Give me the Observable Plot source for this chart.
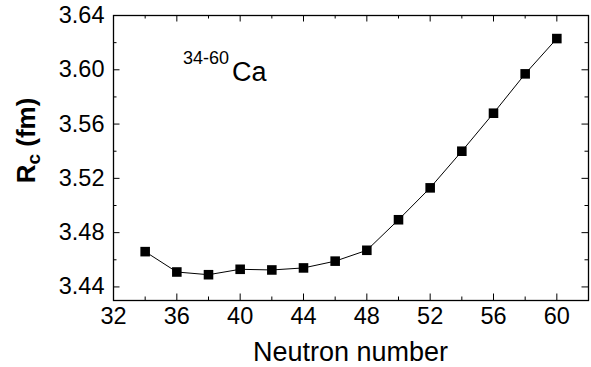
<!DOCTYPE html>
<html>
<head>
<meta charset="utf-8">
<script src="https://cdn.jsdelivr.net/npm/d3@7"></script>
<script src="https://cdn.jsdelivr.net/npm/@observablehq/plot@0.6"></script>
<style>
  html, body { margin: 0; padding: 0; background: #fff; }
  svg { font-family: "Liberation Sans", Arial, Helvetica, sans-serif; }
</style>
</head>
<body>
<div id="chart"></div>
<script>
const neutrons = [34, 36, 38, 40, 42, 44, 46, 48, 50, 52, 54, 56, 58, 60];
const radii = [3.466, 3.451, 3.449, 3.453, 3.4525, 3.454, 3.459, 3.467, 3.4895, 3.513, 3.540, 3.568, 3.597, 3.623];
const xMajor = [32, 36, 40, 44, 48, 52, 56, 60];
const xMinor = [34, 38, 42, 46, 50, 54, 58];
const yMajor = [3.44, 3.48, 3.52, 3.56, 3.60, 3.64];
const yMinor = [3.46, 3.50, 3.54, 3.58, 3.62];
const xLabel = "Neutron number";
const annotation = { sup: "34-60", main: "Ca", x: 36.42, y: 3.604 };

const data = neutrons.map((n, i) => ({ n, r: radii[i] }));

const W = 591, H = 367;
const mL = 113, mR = 3, mT = 15, mB = 67;
const pw = W - mL - mR, ph = H - mT - mB;
const majorLen = 6.5, minorLen = 3.5;

const plot = Plot.plot({
  width: W,
  height: H,
  marginLeft: mL,
  marginRight: mR,
  marginTop: mT,
  marginBottom: mB,
  style: { fontFamily: "Liberation Sans, Arial, sans-serif", background: "white", color: "black" },
  x: { domain: [32, 62] },
  y: { domain: [3.43, 3.64] },
  marks: [
    Plot.axisX({ ticks: xMajor, tickSize: 0, tickPadding: 7, fontSize: 23.5, label: null }),
    Plot.axisY({ ticks: yMajor, tickSize: 0, tickPadding: 9, fontSize: 23.5, label: null, tickFormat: d3.format(".2f") }),
    // bottom ticks (inward)
    Plot.tickX(xMajor, { x: d => d, insetTop: ph - majorLen, stroke: "black", strokeWidth: 1 }),
    Plot.tickX(xMinor, { x: d => d, insetTop: ph - minorLen, stroke: "black", strokeWidth: 1 }),
    // top ticks (mirrored)
    Plot.tickX(xMajor, { x: d => d, insetBottom: ph - majorLen, stroke: "black", strokeWidth: 1 }),
    Plot.tickX(xMinor, { x: d => d, insetBottom: ph - minorLen, stroke: "black", strokeWidth: 1 }),
    // left ticks
    Plot.tickY(yMajor, { y: d => d, insetRight: pw - majorLen, stroke: "black", strokeWidth: 1 }),
    Plot.tickY(yMinor, { y: d => d, insetRight: pw - minorLen, stroke: "black", strokeWidth: 1 }),
    // right ticks
    Plot.tickY(yMajor, { y: d => d, insetLeft: pw - majorLen, stroke: "black", strokeWidth: 1 }),
    Plot.tickY(yMinor, { y: d => d, insetLeft: pw - minorLen, stroke: "black", strokeWidth: 1 }),
    Plot.frame({ stroke: "black", strokeWidth: 1.3 }),
    Plot.line(data, { x: "n", y: "r", stroke: "black", strokeWidth: 1 }),
    Plot.dot(data, { x: "n", y: "r", symbol: "square", r: 5.4, fill: "black", stroke: "none" })
  ]
});

document.getElementById("chart").appendChild(plot);

const svg = d3.select(plot);
const sx = plot.scale("x"), sy = plot.scale("y");

// x-axis title
svg.append("text")
  .attr("x", mL + pw / 2)
  .attr("y", 361)
  .attr("text-anchor", "middle")
  .attr("font-size", 27)
  .attr("fill", "black")
  .text(xLabel);

// y-axis title: R_c (fm)
const yt = svg.append("text")
  .attr("transform", `translate(35,${mT + ph / 2 - 17}) rotate(-90)`)
  .attr("text-anchor", "middle")
  .attr("font-size", 26)
  .attr("font-weight", "bold")
  .attr("fill", "black");
yt.append("tspan").text("R");
yt.append("tspan").attr("font-size", 19).attr("dy", 5).text("c");
yt.append("tspan").attr("dy", -5).text(" (fm)");

// annotation 34-60Ca
const at = svg.append("text")
  .attr("x", sx.apply(annotation.x))
  .attr("y", sy.apply(annotation.y))
  .attr("text-anchor", "start")
  .attr("fill", "black");
at.append("tspan").attr("font-size", 18).text(annotation.sup);
at.append("tspan").attr("font-size", 27).attr("dx", 3).attr("dy", 17).text(annotation.main);
</script>
</body>
</html>
